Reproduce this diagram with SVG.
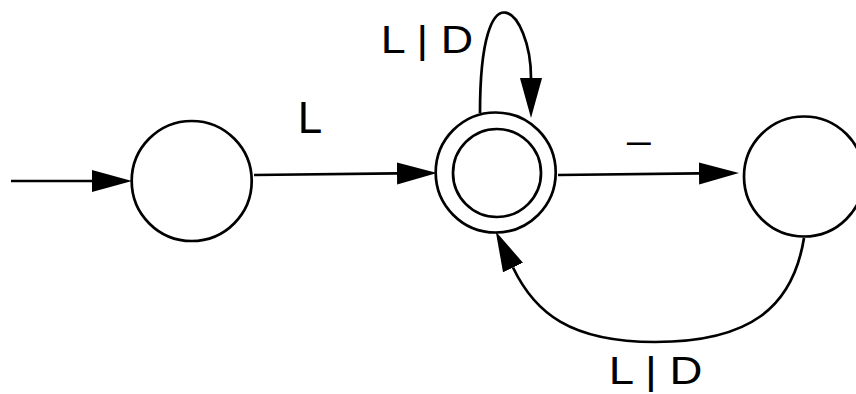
<svg xmlns="http://www.w3.org/2000/svg" width="856" height="394" viewBox="0 0 856 394">
<style>
  .state { fill: #ffffff; stroke: #000000; stroke-width: 2.7; }
  .edge { fill: none; stroke: #000000; stroke-width: 2.7; marker-end: url(#arrow); }
  .label { font-family: "Liberation Sans", Arial, sans-serif; fill: #000000; }
</style>
<defs>
  <marker id="arrow" markerUnits="userSpaceOnUse" markerWidth="40" markerHeight="24" refX="0" refY="10.5" orient="auto" viewBox="0 0 38 21">
    <path d="M0,0 L38,10.5 L0,21 Z" fill="#000000"/>
  </marker>
</defs>
<rect width="856" height="394" fill="#ffffff"/>
<g id="connectors">
  <line class="edge" x1="11" y1="181" x2="92" y2="181"/>
  <line class="edge" x1="254" y1="175" x2="397" y2="173.4"/>
  <line class="edge" x1="558" y1="175" x2="699" y2="173.4"/>
  <path class="edge" d="M480,113 C480,-40 531,10 531,78"/>
  <path class="edge" d="M804,238 C792.8,307.3 750,342 655,342 C570,342 534.5,312.5 513,267.5"/>
  <text class="label" x="297.8" y="132.7" font-size="44">L</text>
  <text class="label" x="380.8" y="52.7" font-size="39" textLength="92.3" lengthAdjust="spacingAndGlyphs">L | D</text>
  <text class="label" x="627.6" y="136.7" font-size="41">_</text>
  <text class="label" x="608.7" y="384" font-size="39" textLength="93.7" lengthAdjust="spacingAndGlyphs">L | D</text>
</g>
<g id="node-start">
  <circle class="state" cx="191.7" cy="181" r="60"/>
</g>
<g id="node-accept">
  <circle class="state" cx="495.7" cy="172.5" r="60"/>
  <circle class="state" cx="497" cy="173" r="44"/>
</g>
<g id="node-right">
  <circle class="state" cx="804" cy="176.5" r="60"/>
</g>
</svg>
